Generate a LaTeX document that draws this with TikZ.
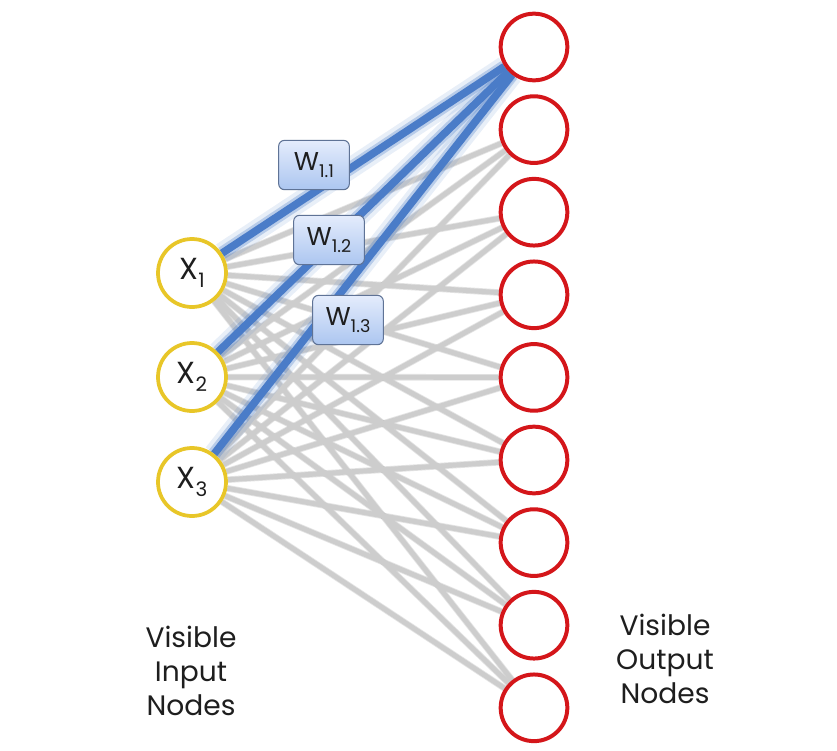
\documentclass[tikz,border=0pt]{standalone}
\usepackage{fontspec}
\setmainfont{Poppins}
\usetikzlibrary{backgrounds}
\definecolor{inyel}{RGB}{232,198,40}
\definecolor{outred}{RGB}{212,22,26}
\definecolor{wire}{RGB}{205,205,205}
\definecolor{wireshadow}{RGB}{165,165,165}
\definecolor{bwire}{RGB}{74,124,200}
\definecolor{boxtop}{RGB}{228,236,252}
\definecolor{boxbot}{RGB}{172,198,240}
\definecolor{boxedge}{RGB}{95,115,150}
\definecolor{txt}{RGB}{30,30,30}
\newcommand\mysub[1]{\raisebox{-0.45ex}{\fontsize{17}{17}\selectfont #1}}
\newcommand\mywsub[1]{\raisebox{-0.45ex}{\fontsize{15}{15}\selectfont #1}}
\begin{document}
\begin{tikzpicture}[x=0.03cm,y=-0.03cm,
  innode/.style={circle,draw=inyel,line width=3.2pt,fill=white,minimum size=2.04cm,inner sep=0pt,text=txt,font=\fontsize{26}{28}\selectfont},
  outnode/.style={circle,draw=outred,line width=3.4pt,fill=white,minimum size=2.0cm,inner sep=0pt},
  graywire/.style={draw=wire,line width=4.2pt},
  grayshadow/.style={draw=wireshadow,line width=5.6pt,opacity=0.3},
  bluewire/.style={draw=bwire,line width=6.5pt},
  blueglow/.style={draw=bwire,line width=11pt,opacity=0.3},
  blueglowb/.style={draw=bwire,line width=18pt,opacity=0.12},
  wbox/.style={rectangle,rounded corners=5pt,draw=boxedge,line width=0.9pt,top color=boxtop,bottom color=boxbot,minimum width=2.12cm,minimum height=1.48cm,inner sep=0pt,text=txt,font=\fontsize{22}{24}\selectfont},
  lbl/.style={align=center,text=txt,font=\fontsize{24}{29}\selectfont}]
\useasboundingbox (0,0) rectangle (837,750);
% circles
\node[innode] (i1) at (192,273) {X\mysub{1}};
\node[innode] (i2) at (192,377) {X\mysub{2}};
\node[innode] (i3) at (192,482) {X\mysub{3}};
\foreach \j in {1,...,9}{
  \node[outnode] (o\j) at (534,{47+(\j-1)*82.6}) {};
}
\begin{scope}[on background layer]
\fill[white] (0,0) rectangle (837,750);
\foreach \i in {1,2,3}{
  \foreach \j in {2,...,9}{
    \draw[grayshadow] (i\i) -- (o\j);
  }
}
\foreach \i in {1,2,3}{
  \foreach \j in {2,...,9}{
    \draw[graywire] (i\i) -- (o\j);
  }
}
\foreach \i in {1,2,3}{
  \draw[blueglowb] (i\i) -- (o1);
}
\foreach \i in {1,2,3}{
  \draw[blueglow] (i\i) -- (o1);
}
\foreach \i in {1,2,3}{
  \draw[bluewire] (i\i) -- (o1);
}
\end{scope}
% weight boxes
\node[wbox] (w1) at (314,165) {W\mywsub{1.1}};
\node[wbox] (w2) at (329,240) {W\mywsub{1.2}};
\node[wbox] (w3) at (348,320) {W\mywsub{1.3}};
% labels
\node[lbl] (lin) at (191,671) {Visible\\Input\\Nodes};
\node[lbl] (lout) at (665,659) {Visible\\Output\\Nodes};
\end{tikzpicture}
\end{document}
